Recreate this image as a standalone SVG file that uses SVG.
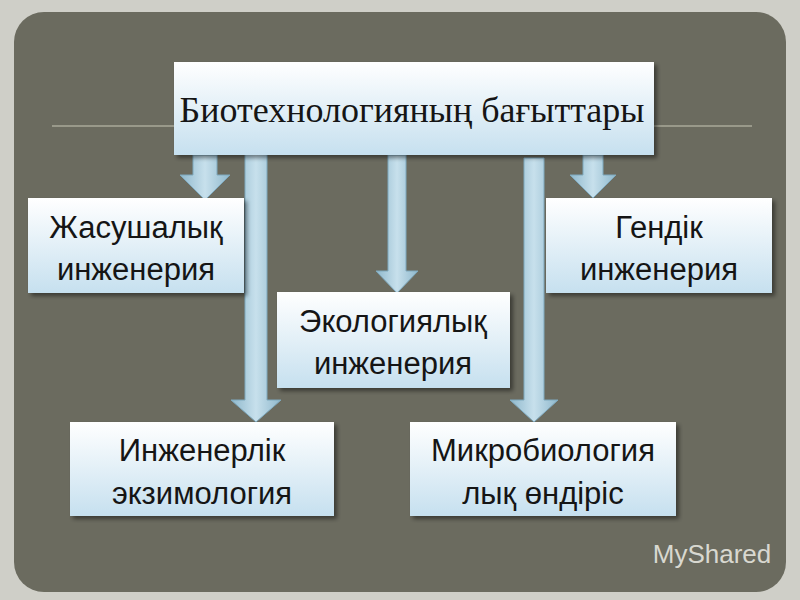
<svg xmlns="http://www.w3.org/2000/svg" width="800" height="600" viewBox="0 0 800 600">
<defs>
<linearGradient id="bx" x1="0" y1="0" x2="0" y2="1"><stop offset="0" stop-color="#ffffff"/><stop offset="1" stop-color="#c6e0ef"/></linearGradient>
<linearGradient id="ar" x1="0" y1="0" x2="1" y2="0"><stop offset="0" stop-color="#8fb8cc"/><stop offset="0.5" stop-color="#c7e0ec"/><stop offset="1" stop-color="#8fb8cc"/></linearGradient>
<filter id="sh" x="-10%" y="-10%" width="130%" height="130%"><feDropShadow dx="3" dy="3" stdDeviation="2" flood-color="#000" flood-opacity="0.45"/></filter>
<style>
.b{fill:url(#bx);filter:url(#sh)}
.a{fill:url(#ar);stroke:#7fa9be;stroke-width:1}
text{font-family:"Liberation Sans Narrow","Liberation Sans",sans-serif;font-size:31px;fill:#151515;text-anchor:middle}
</style>
</defs>
<rect width="800" height="600" fill="#cfcfc8"/>
<rect x="14" y="12" width="772" height="580" rx="30" fill="#6b6b5f"/>
<line x1="52" y1="126" x2="752" y2="126" stroke="#a8a898" stroke-width="1.5"/>
<g id="connectors">
<path class="a" d="M193 155h24v20h13l-25 25l-25-25h13z"/>
<path class="a" d="M245 130h22v270h14l-25 22l-25-22h14z"/>
<path class="a" d="M388 155h18v116h12l-21 22l-21-22h12z"/>
<path class="a" d="M524 158h20v242h14l-24 22l-24-22h14z"/>
<path class="a" d="M583 155h20v20h13l-23 23l-23-23h13z"/>
</g>
<g id="top"><rect class="b" x="174" y="62" width="480" height="93"/><text x="412" y="122" style="font-family:'Liberation Serif',serif;font-size:36px">Биотехнологияның бағыттары</text></g>
<g id="n1"><rect class="b" x="28" y="198" width="216" height="95"/><text x="136" y="238">Жасушалық</text><text x="136" y="280">инженерия</text></g>
<g id="n2"><rect class="b" x="546" y="198" width="226" height="95"/><text x="659" y="238">Гендік</text><text x="659" y="280">инженерия</text></g>
<g id="n3"><rect class="b" x="277" y="292" width="233" height="96"/><text x="393" y="332">Экологиялық</text><text x="393" y="374">инженерия</text></g>
<g id="n4"><rect class="b" x="70" y="422" width="264" height="94"/><text x="202" y="461">Инженерлік</text><text x="202" y="504">экзимология</text></g>
<g id="n5"><rect class="b" x="410" y="422" width="266" height="94"/><text x="543" y="461">Микробиология</text><text x="543" y="504">лық өндіріс</text></g>
<text x="712" y="563" style="font-family:'Liberation Sans',sans-serif;font-size:26px;fill:#d8d8d0">MyShared</text>
</svg>
